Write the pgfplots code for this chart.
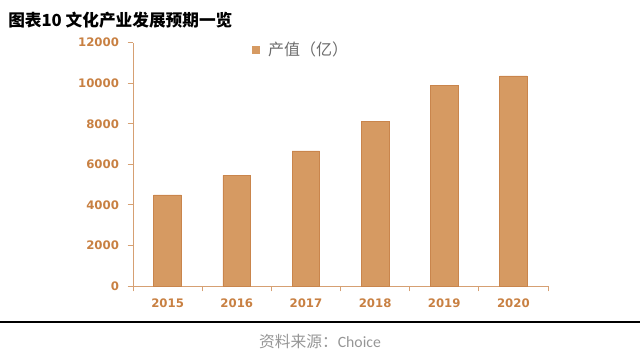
\documentclass[border=0pt]{standalone}
\usepackage{pgfplots}
\pgfplotsset{compat=1.18}
\usepackage{fontspec}
\setmainfont{Carlito}[Numbers=Lining]
\newfontfamily\cjk{Noto Sans CJK SC}
\newfontfamily\tickfont{DejaVu Sans}
\definecolor{barfill}{RGB}{214,154,98}
\definecolor{baredge}{RGB}{201,133,76}
\definecolor{tickcol}{RGB}{200,128,66}
\definecolor{axiscol}{RGB}{214,160,115}
\definecolor{srccol}{RGB}{150,150,150}
\begin{document}
\begin{tikzpicture}[x=1pt,y=1pt]
\path[use as bounding box] (0,0) rectangle (480,266.25);
\node[anchor=base west, inner sep=0] at (6,246.5) {\cjk\bfseries\fontsize{12.5}{15}\selectfont 图表10 文化产业发展预期一览};
\draw[line width=1.1pt] (0,24.75) -- (480,24.75);
\node[anchor=base, inner sep=0, text=srccol] at (240,5.3) {\fontsize{11.8}{13}\selectfont{\cjk 资料来源：}Choice};
\begin{axis}[
  at={(99.75pt,51.75pt)}, anchor=south west,
  scale only axis, width=311.25pt, height=182.5pt,
  ymin=0, ymax=12000, xmin=-0.5, xmax=5.5,
  scaled y ticks=false,
  ytick={0,2000,4000,6000,8000,10000,12000},
  xtick={-0.5,0.5,1.5,2.5,3.5,4.5,5.5},
  xticklabels={},
  extra x ticks={0,1,2,3,4,5},
  extra x tick labels={2015,2016,2017,2018,2019,2020},
  extra x tick style={major tick length=0pt, tick style={draw=none}},
  axis x line*=bottom, axis y line*=left,
  axis line style={draw=axiscol, line width=0.6pt},
  tick align=outside,
  major tick length=4pt,
  tick style={draw=axiscol, line width=0.6pt},
  /pgf/number format/assume math mode=true,
  /pgf/number format/1000 sep={},
  ticklabel style={font=\tickfont\bfseries\fontsize{8.8}{10}\selectfont, text=tickcol},
  yticklabel style={xshift=-3pt},
  xticklabel style={yshift=-5pt, text height=1.6ex},
  legend style={draw=none, fill=none, at={(0.286,0.970)}, anchor=west,
    font=\cjk\fontsize{12}{14}\selectfont, text=gray!85!black,
    inner sep=0pt},
  legend image code/.code={\fill[barfill] (0pt,-2.6pt) rectangle (5.25pt,2.65pt); \path (9.5pt,0pt);},
]
\addplot[ybar, bar width=0.4, fill=barfill, draw=baredge, line width=0.6pt]
  coordinates {(0,4490) (1,5460) (2,6660) (3,8100) (4,9880) (5,10360)};
\addlegendentry{产值（亿）}
\end{axis}
\end{tikzpicture}
\end{document}
